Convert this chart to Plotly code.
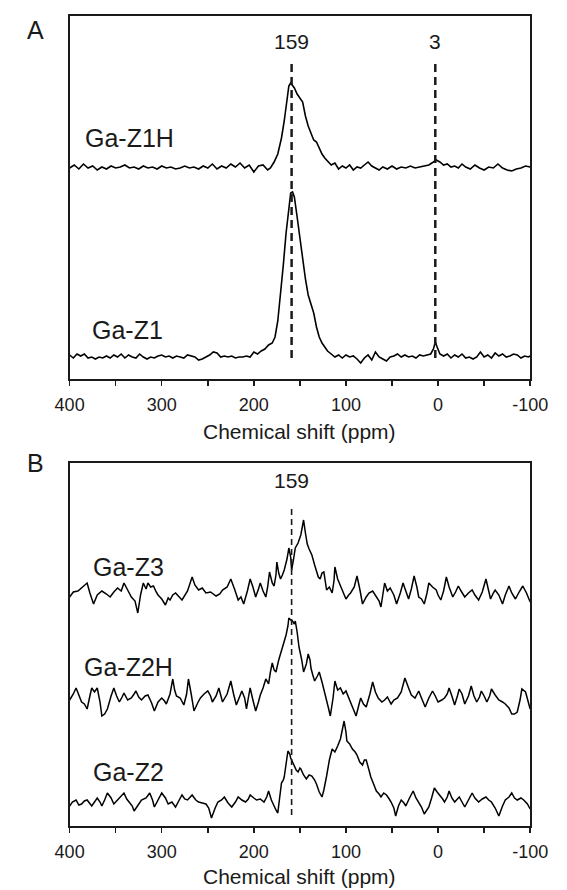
import numpy as np
import plotly.graph_objects as go

# ---------------- data (intensity above each spectrum's baseline, arbitrary units) ----------------
ga_z1h_ppm = [400,395,390,385,380,375,370,365,360,355,350,345,340,335,330,325,320,315,310,305,
              300,295,290,285,280,275,270,265,260,255,250,245,240,235,230,225,220,215,210,205,
              200,195,190,185,182,178,174,170,167,164,162,160,158,156,153,150,147,144,141,138,
              135,132,129,126,123,120,116,112,108,104,100,96,92,88,84,80,76,72,68,64,60,
              55,50,45,40,35,30,25,20,15,10,5,2,-2,-6,-10,-14,-18,-22,-26,-30,
              -35,-40,-45,-50,-55,-60,-65,-70,-75,-80,-85,-90,-95,-100]
ga_z1h_int = [0,3,-1,4,0,2,-2,1,-1,2,0,1,3,0,1,-1,2,0,1,-1,
              2,0,1,-1,0,2,0,1,-1,2,0,4,-1,2,0,4,1,5,0,3,
              -4,2,3,-2,0,6,14,30,47,68,82,85,82,80,74,70,66,52,42,35,
              28,26,20,14,10,7,3,5,-1,2,0,3,-2,1,0,3,6,2,0,-2,1,
              -1,2,-1,1,0,2,0,1,2,3,6,8,6,3,4,1,2,0,4,1,
              -1,3,0,-2,1,0,4,0,-2,-3,-1,0,2,1]

ga_z1_ppm = [400,396,392,388,384,380,376,372,368,364,360,356,352,348,344,340,336,332,328,324,
             320,316,312,308,304,300,296,292,288,284,280,276,272,268,264,260,256,252,248,244,
             240,236,232,228,224,220,216,212,208,204,200,196,192,188,184,180,
             177,174,171,168,165,162,160,158,156,153,150,147,144,141,138,135,132,129,126,123,120,
             116,112,108,104,100,96,92,88,84,80,76,72,68,64,60,56,52,48,44,40,36,32,28,24,20,16,12,8,
             5,3,1,-2,
             -6,-10,-14,-18,-22,-26,-30,-34,-38,-42,-46,-50,-54,-58,-62,-66,-70,-74,-78,-82,-86,-90,-94,-98,-100]
ga_z1_int = [2,-1,3,1,3,-1,0,-2,0,-1,1,-1,2,0,3,-1,2,0,-1,3,
             0,-2,0,-1,1,2,0,1,-1,1,0,-1,2,1,0,-3,-2,0,2,5,
             4,0,1,0,1,-1,0,0,1,0,5,3,6,8,12,14,
             20,36,62,92,124,152,164,165,160,140,120,96,78,62,52,44,30,20,14,10,6,
             3,0,2,-1,2,0,1,-2,-6,-1,2,-3,5,0,-2,-4,0,1,3,0,2,0,1,-1,2,1,2,3,
             8,15,10,3,
             1,3,-1,2,0,3,-1,0,-2,0,5,0,2,-1,4,1,3,0,1,3,2,-1,1,0,1]

ga_z3_ppm = [400,396,391,386,381,378,374,370,365,360,
             356,352,348,344,341,337,333,329,326,323,
             320,317,315,312,309,306,304,300,296,293,
             291,288,285,281,278,272,267,264,260,256,
             252,247,241,237,234,229,225,221,217,214,
             211,207,204,201,198,195,193,190,187,185,
             183,180,178,176,175,173,171,169,167,164,
             162,160,159,157,155,152,149,147,146,144,
             142,140,137,134,132,130,128,126,124,122,
             121,118,115,113,112,109,106,103,100,97,
             95,91,88,85,82,78,75,71,67,64,
             62,60,58,55,52,48,45,41,38,35,
             32,29,26,23,21,18,15,12,10,6,
             2,0,-3,-6,-9,-12,-16,-19,-22,-25,
             -29,-33,-37,-40,-44,-48,-52,-55,-57,-60,
             -62,-66,-70,-73,-77,-80,-84,-88,-92,-96,
             -100]
ga_z3_int = [-2,3,4,8,12,2,-9,0,4,1,
             -2,3,7,4,12,5,-2,-6,-18,0,
             12,6,12,8,9,3,0,-4,-10,-3,
             -5,0,2,-2,-5,4,18,10,5,7,
             2,3,-1,1,5,8,16,6,-5,-2,
             -9,4,16,8,-2,6,12,4,-2,8,
             23,12,9,20,33,22,16,20,25,36,
             47,38,25,35,47,52,60,70,75,62,
             51,46,40,30,23,18,16,22,23,12,
             5,8,2,14,28,16,9,2,-4,0,
             2,8,19,6,-9,-2,2,4,-2,-6,
             -12,0,12,4,7,0,-9,2,12,4,
             -4,6,19,8,-2,-4,-9,2,12,8,
             5,0,-5,4,18,8,-2,3,9,4,
             -2,2,5,0,-5,3,16,4,-4,2,
             5,0,-9,0,9,2,-4,3,9,2,
             -7]

ga_z2h_ppm = [400,396,393,390,387,384,381,378,376,373,
              370,367,365,362,359,355,352,349,346,343,
              341,337,333,330,328,325,322,318,315,311,
              308,304,300,297,295,291,288,286,284,280,
              276,273,271,268,265,261,258,254,250,247,
              245,241,238,236,234,229,225,222,219,216,
              213,210,208,206,204,201,198,195,193,190,
              187,185,184,182,180,178,176,173,171,168,
              165,163,162,160,158,156,155,153,151,148,
              146,143,141,139,138,136,134,131,129,126,
              124,122,121,119,117,114,112,109,106,103,
              100,97,95,92,89,86,84,81,78,74,
              71,68,65,61,58,55,51,48,44,40,
              36,32,29,25,21,18,14,10,6,3,
              0,-4,-7,-10,-12,-15,-18,-21,-23,-26,
              -29,-33,-36,-39,-42,-45,-47,-50,-53,-56,
              -58,-62,-66,-70,-73,-77,-80,-83,-86,-89,
              -91,-95,-100]
ga_z2h_int = [0,6,12,4,-2,-4,-9,4,12,8,
              12,-2,-16,-14,-9,4,12,4,-2,3,
              7,0,2,6,9,3,0,4,5,-3,
              -11,-2,2,-1,-4,6,21,10,4,2,
              -5,6,21,6,-11,-3,2,6,9,4,
              -2,4,12,5,-2,6,19,6,-5,2,
              9,2,-9,2,12,0,-11,-2,5,12,
              21,18,16,28,37,30,28,40,46,55,
              65,74,82,80,79,76,79,68,53,40,
              28,36,46,40,32,25,19,24,28,18,
              11,5,0,-8,-16,2,19,10,12,6,
              9,2,-4,-10,-16,-5,2,-4,-7,6,
              18,8,2,-2,0,3,-4,0,2,8,
              22,12,5,2,9,2,-7,2,9,4,
              -2,0,2,6,12,4,-5,4,11,6,
              -4,4,14,4,-2,3,9,4,-2,4,
              11,5,0,-2,-4,-8,-14,-14,-12,0,
              11,8,-9]

ga_z2_ppm = [400,397,393,390,387,384,381,378,376,373,
             370,367,365,362,359,355,352,349,346,343,
             341,338,335,332,330,326,322,317,313,310,
             308,304,300,296,293,289,285,281,278,275,
             272,269,267,263,260,256,252,249,246,242,
             239,235,232,228,224,220,217,213,209,206,
             204,200,197,193,189,186,184,181,178,176,
             174,172,170,168,167,165,163,161,160,158,
             156,154,152,150,149,146,143,140,137,134,
             132,129,126,124,121,118,115,112,109,107,
             106,104,102,100,99,96,93,90,88,85,
             82,80,78,75,73,70,67,64,62,59,
             56,53,51,48,46,43,40,37,35,31,
             27,24,21,18,15,12,10,7,4,1,
             -2,-5,-7,-10,-12,-15,-18,-21,-23,-26,
             -29,-33,-37,-40,-44,-48,-52,-55,-58,-62,
             -66,-70,-73,-77,-80,-83,-86,-90,-93,-97,
             -100]
ga_z2_int = [-4,0,2,-3,-2,1,2,-1,-4,0,
             4,0,-4,2,9,4,-2,1,4,6,
             9,3,0,-4,-9,-3,2,4,9,2,
             -5,2,9,4,-2,0,-5,2,7,3,
             2,5,7,2,0,-1,-2,-6,-16,-6,
             0,2,5,-1,-5,0,5,2,0,3,
             7,4,2,3,0,5,11,2,-5,-8,
             -11,4,19,22,25,38,51,48,44,40,
             35,32,30,34,33,27,23,27,26,22,
             18,10,5,12,26,42,53,50,56,60,
             63,72,81,70,61,58,53,50,47,40,
             37,42,42,32,25,18,11,8,5,9,
             7,3,0,-6,-14,-4,2,-1,-4,4,
             11,4,0,-5,-12,-8,-5,4,14,10,
             7,3,0,5,11,4,0,3,5,0,
             -5,2,9,4,0,3,5,2,0,-6,
             -14,-4,2,5,9,4,2,4,2,-2,
             -7]

panel_a_names = ["Ga-Z1H", "Ga-Z1"]
panel_b_names = ["Ga-Z3", "Ga-Z2H", "Ga-Z2"]
marks_a = [159, 3]
marks_b = [159]
x_tick_vals = [400, 300, 200, 100, 0, -100]
x_tick_text = ["400", "300", "200", "100", "0", "-100"]
x_minor_vals = [350, 250, 150, 50, -50]
x_title = "Chemical shift (ppm)"

# ---------------- layout helpers (pixel positions in the 567x890 frame) ----------------
W, H = 567, 890
FONT = "Liberation Sans, Arial, sans-serif"
INK = "#1a1a1a"
def px(x):
    return x / W
def py(y):
    return 1 - y / H

X0, X1 = 58, 547
A_TOP, A_BOT = 16, 379
B_TOP, B_BOT = 463, 826

fig = go.Figure()

offsets_a = {"Ga-Z1H": A_BOT - 168, "Ga-Z1": A_BOT - 357}
offsets_b = {"Ga-Z3": B_BOT - 595, "Ga-Z2H": B_BOT - 700, "Ga-Z2": B_BOT - 802}
series = {
    "Ga-Z1H": (ga_z1h_ppm, ga_z1h_int),
    "Ga-Z1": (ga_z1_ppm, ga_z1_int),
    "Ga-Z3": (ga_z3_ppm, ga_z3_int),
    "Ga-Z2H": (ga_z2h_ppm, ga_z2h_int),
    "Ga-Z2": (ga_z2_ppm, ga_z2_int),
}

for name in panel_a_names:
    xs, ys = series[name]
    fig.add_trace(go.Scatter(x=xs, y=np.array(ys) + offsets_a[name], mode="lines",
                             line=dict(color="black", width=1.6), name=name,
                             xaxis="x", yaxis="y", showlegend=False, hoverinfo="skip"))
for name in panel_b_names:
    xs, ys = series[name]
    fig.add_trace(go.Scatter(x=xs, y=np.array(ys) + offsets_b[name], mode="lines",
                             line=dict(color="black", width=1.5), name=name,
                             xaxis="x2", yaxis="y2", showlegend=False, hoverinfo="skip"))

def xaxis_cfg(anchor):
    return dict(domain=[px(X0), px(X1)], anchor=anchor, range=[400, -100],
                tickmode="array", tickvals=x_tick_vals, ticktext=x_tick_text,
                ticks="outside", ticklen=5, tickwidth=1.5, tickcolor=INK,
                minor=dict(tickmode="array", tickvals=x_minor_vals,
                           ticks="outside", ticklen=5, tickwidth=1.5, tickcolor=INK),
                showline=True, linewidth=2, linecolor=INK, mirror=True,
                showgrid=False, zeroline=False,
                tickfont=dict(family=FONT, size=18, color=INK),
                ticklabelstandoff=3)

def yaxis_cfg(anchor, top, bot):
    return dict(domain=[py(bot), py(top)], anchor=anchor, range=[0, bot - top],
                showline=True, linewidth=2, linecolor=INK, mirror=True,
                showticklabels=False, ticks="", showgrid=False, zeroline=False,
                fixedrange=True)

shapes = []
for m in marks_a:
    shapes.append(dict(type="line", xref="x", yref="y", x0=m, x1=m,
                       y0=A_BOT - 358, y1=A_BOT - 63,
                       line=dict(color=INK, width=2.5, dash="8px,5px")))
for m in marks_b:
    shapes.append(dict(type="line", xref="x2", yref="y2", x0=m, x1=m,
                       y0=B_BOT - 815, y1=B_BOT - 505,
                       line=dict(color=INK, width=1.6, dash="6px,4px")))

ann = []
def text(t, x, y, size, xref="paper"):
    ann.append(dict(text=t, x=x, y=py(y), xref=xref, yref="paper", showarrow=False,
                    xanchor="center", yanchor="middle",
                    font=dict(family=FONT, size=size, color=INK)))

text("A", px(22), 30, 25)
text("B", px(22), 463, 25)
for m in marks_a:
    text(str(m), m, 42, 21, xref="x")
for m in marks_b:
    text(str(m), m, 480, 21, xref="x2")
label_pos = {"Ga-Z1H": (122, 138), "Ga-Z1": (119, 330),
             "Ga-Z3": (121, 567), "Ga-Z2H": (120, 667), "Ga-Z2": (121, 772)}
for name, (lx, ly) in label_pos.items():
    text(name, px(lx), ly, 25)
text(x_title, px(302), 431, 21)
text(x_title, px(302), 876, 21)

fig.update_layout(
    width=W, height=H, margin=dict(l=0, r=0, t=0, b=0),
    paper_bgcolor="white", plot_bgcolor="white",
    xaxis=xaxis_cfg("y"), yaxis=yaxis_cfg("x", A_TOP, A_BOT),
    xaxis2=xaxis_cfg("y2"), yaxis2=yaxis_cfg("x2", B_TOP, B_BOT),
    shapes=shapes, annotations=ann, showlegend=False, hovermode=False,
)

fig.write_html("out.html", config={"displayModeBar": False, "staticPlot": True},
               post_script="document.body.style.margin='0';document.body.style.overflow='hidden';")
